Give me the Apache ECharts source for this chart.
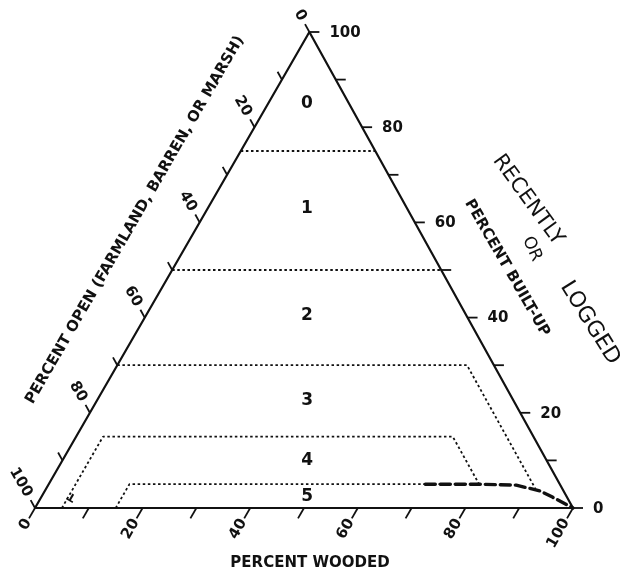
<!DOCTYPE html>
<html><head><meta charset="utf-8">
<script src="https://cdn.jsdelivr.net/npm/echarts@6/dist/echarts.min.js"></script>
<style>html,body{margin:0;padding:0;background:#fff}#c{width:620px;height:574px}</style>
</head><body><div id="c"></div>
<script>
// ---- data (all in percent) ----
const tickValues = [0,10,20,30,40,50,60,70,80,90,100];
const labelValues = [0,20,40,60,80,100];
const woodedLabels = ['0','20','40','60','80','100'];
const openLabels = ['0','20','40','60','80','100'];
const builtLabels = ['0','20','40','60','80','100'];

// triangle outline: built-up / wooded at each corner
const frameBuilt  = [0, 0, 100, 0];
const frameWooded = [0, 100, 0, 0];

// class boundaries (built-up %, wooded %)
const b01Built = [75, 75];          const b01Wooded = [0, 25];
const b12Built = [50, 50];          const b12Wooded = [0, 50];
const b23Built = [30, 30, 4];       const b23Wooded = [0, 65, 91];
const b34Built = [0, 15, 15, 5];    const b34Wooded = [5, 5, 70, 80];
const b45Built = [0, 5, 5];         const b45Wooded = [15, 15, 80];
// hand-drawn "recently logged" dashed curve
const loggedBuilt  = [5, 5, 4.8, 3.6, 2.3, 0];
const loggedWooded = [70, 80, 87, 92, 95, 100];
// arrow mark at the foot of class 4 boundary
const markBuilt = [2.4]; const markWooded = [5.6];

// class labels
const zoneNames  = ['0','1','2','3','4','5'];
const zoneBuilt  = [85, 63, 40.5, 22.5, 10, 2.5];
const zoneWooded = [7.2, 18.4, 29.9, 39.1, 45.5, 49.3];

// ---- ternary -> cartesian (x = wooded + K*built, y = built) ----
const K = 0.51;
function tern(b, w) { return [w + K * b, b]; }
function path(bs, ws) { return bs.map((b, i) => tern(b, ws[i])); }

const FONT = 'DejaVu Sans';
const INK = '#111';

function lineSeries(bs, ws, style) {
  return { type: 'line', data: path(bs, ws), symbol: 'none', clip: false, silent: true,
    animation: false, lineStyle: style, z: 3 };
}

function tickSeries(pointFn, outFn, len, labels, rot, mode) {
  return {
    type: 'custom', coordinateSystem: 'cartesian2d', silent: true, animation: false, clip: false, z: 5,
    data: tickValues.map(v => [v, 0]),
    renderItem(params, api) {
      const v = api.value(0);
      const p = api.coord(pointFn(v));
      const q = api.coord(outFn(v));
      let dx = q[0] - p[0], dy = q[1] - p[1];
      const n = Math.hypot(dx, dy); dx /= n; dy /= n;
      const children = [{ type: 'line', shape: { x1: p[0], y1: p[1], x2: p[0] + dx * len, y2: p[1] + dy * len },
        style: { stroke: INK, lineWidth: 1.8 } }];
      const idx = labelValues.indexOf(v);
      if (idx >= 0) {
        const t = labels[idx];
        if (mode === 'side') {
          children.push({ type: 'text', x: p[0] + 20, y: p[1] + 1,
            style: { text: t, fill: INK, fontFamily: FONT, fontWeight: 'bold', fontSize: 15, align: 'left', verticalAlign: 'middle' } });
        } else {
          const d = 14 + 5.1 * t.length;
          children.push({ type: 'text', x: p[0] + dx * d, y: p[1] + dy * d, rotation: rot,
            style: { text: t, fill: INK, fontFamily: FONT, fontWeight: 'bold', fontSize: 15, align: 'center', verticalAlign: 'middle' } });
        }
      }
      return { type: 'group', children };
    }
  };
}

const dotted = { color: INK, width: 1.8, type: [2.5, 2.6] };

const option = {
  animation: false,
  backgroundColor: '#fff',
  grid: { left: 35, right: 47, top: 32, bottom: 66 },
  xAxis: { type: 'value', min: 0, max: 100, show: false },
  yAxis: { type: 'value', min: 0, max: 100, show: false },
  graphic: [
    { type: 'text', x: 135, y: 220, rotation: Math.PI / 3,
      style: { text: 'PERCENT OPEN (FARMLAND, BARREN, OR MARSH)', fill: INK, fontFamily: FONT, fontWeight: 'bold', fontSize: 15, align: 'center', verticalAlign: 'middle' } },
    { type: 'text', x: 507, y: 268, rotation: -Math.PI / 3,
      style: { text: 'PERCENT BUILT-UP', fill: INK, fontFamily: FONT, fontWeight: 'bold', fontSize: 15, align: 'center', verticalAlign: 'middle' } },
    { type: 'text', x: 310, y: 563,
      style: { text: 'PERCENT WOODED', fill: INK, fontFamily: FONT, fontWeight: 'bold', fontSize: 15, align: 'center', verticalAlign: 'middle' } },
    { type: 'text', x: 528, y: 200, rotation: -54 * Math.PI / 180,
      style: { text: 'RECENTLY', fill: INK, fontFamily: FONT, fontSize: 21, align: 'center', verticalAlign: 'middle' } },
    { type: 'text', x: 532, y: 249, rotation: -66 * Math.PI / 180,
      style: { text: 'OR', fill: INK, fontFamily: FONT, fontSize: 17, align: 'center', verticalAlign: 'middle' } },
    { type: 'text', x: 590, y: 323, rotation: -58 * Math.PI / 180,
      style: { text: 'LOGGED', fill: INK, fontFamily: FONT, fontSize: 22, align: 'center', verticalAlign: 'middle' } }
  ],
  series: [
    lineSeries(frameBuilt, frameWooded, { color: INK, width: 2.2 }),
    lineSeries(b01Built, b01Wooded, dotted),
    lineSeries(b12Built, b12Wooded, dotted),
    lineSeries(b23Built, b23Wooded, dotted),
    lineSeries(b34Built, b34Wooded, dotted),
    lineSeries(b45Built, b45Wooded, dotted),
    lineSeries(loggedBuilt, loggedWooded, { color: INK, width: 3.4, type: [10, 5], cap: 'round' }),
    // wooded (bottom) axis
    tickSeries(v => tern(0, v), v => tern(-10, v), 12, woodedLabels, Math.PI / 3, 'rot'),
    // open (left) axis
    tickSeries(v => tern(100 - v, 0), v => tern(110 - v, -10), 9, openLabels, -Math.PI / 3, 'rot'),
    // built-up (right) axis
    tickSeries(v => tern(v, 100 - v), v => tern(v, 110 - v), 10, builtLabels, 0, 'side'),
    // class labels
    {
      type: 'custom', coordinateSystem: 'cartesian2d', silent: true, animation: false, clip: false, z: 6,
      data: zoneNames.map((n, i) => [...tern(zoneBuilt[i], zoneWooded[i]), n]),
      renderItem(params, api) {
        const p = api.coord([api.value(0), api.value(1)]);
        return { type: 'text', x: p[0], y: p[1],
          style: { text: zoneNames[params.dataIndex], fill: INK, fontFamily: FONT, fontWeight: 'bold', fontSize: 17, align: 'center', verticalAlign: 'middle' } };
      }
    },
    // small hand mark
    {
      type: 'custom', coordinateSystem: 'cartesian2d', silent: true, animation: false, clip: false, z: 6,
      data: markBuilt.map((b, i) => tern(b, markWooded[i])),
      renderItem(params, api) {
        const p = api.coord([api.value(0), api.value(1)]);
        return { type: 'text', x: p[0], y: p[1], rotation: 150 * Math.PI / 180,
          style: { text: 'T', fill: INK, fontFamily: FONT, fontWeight: 'bold', fontSize: 11, align: 'center', verticalAlign: 'middle' } };
      }
    }
  ]
};
echarts.init(document.getElementById('c'), null, { renderer: 'canvas' }).setOption(option);
</script></body></html>
